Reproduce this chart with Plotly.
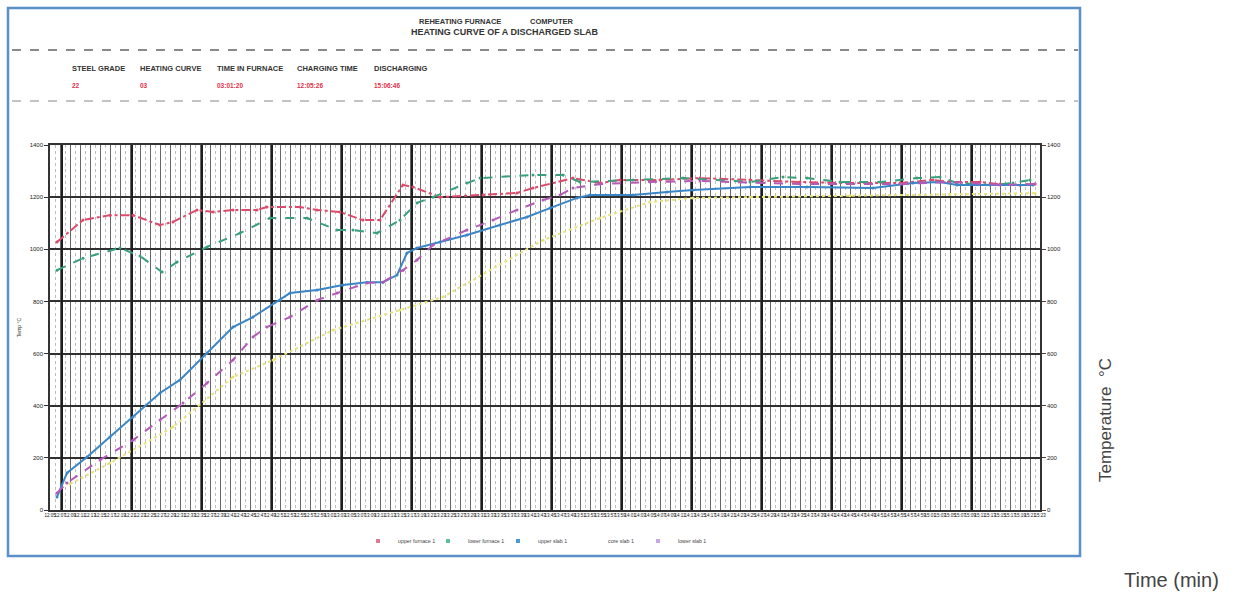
import plotly.graph_objects as go

# ---------------- data (minutes in furnace, °C) ----------------
red_t = [1.4, 6.6, 12.0, 16.6, 22.0, 24.6, 29.4, 32.6, 36.6, 41.4, 43.4, 50.0, 53.4, 58.0, 62.6, 66.0,
         70.6, 72.6, 78.0, 86.6, 93.4, 96.6, 104.6, 110.0, 114.0, 122.0, 130.0, 140.0, 150.0, 160.0,
         170.0, 176.6, 180.0, 186.0, 190.0, 194.0, 197.0]
red_v = [1028, 1112, 1131, 1131, 1093, 1105, 1151, 1143, 1151, 1151, 1162, 1162, 1151, 1143, 1112, 1112,
         1247, 1239, 1200, 1208, 1216, 1235, 1273, 1254, 1266, 1266, 1273, 1266, 1258, 1254,
         1254, 1266, 1258, 1258, 1250, 1246, 1250]

green_t = [1.4, 6.6, 14.0, 18.0, 22.4, 25.4, 31.4, 38.0, 44.0, 51.4, 57.4, 60.6, 65.4, 70.0, 73.4,
           76.6, 83.4, 86.0, 96.6, 102.6, 106.0, 116.6, 126.6, 140.0, 146.6, 151.4, 158.0, 166.0,
           173.4, 178.0, 181.4, 188.0, 192.6, 196.0]
green_v = [920, 966, 1005, 974, 913, 951, 1009, 1062, 1120, 1120, 1074, 1074, 1062, 1112, 1178,
           1200, 1254, 1273, 1285, 1285, 1258, 1266, 1273, 1258, 1277, 1273, 1258, 1258,
           1273, 1277, 1254, 1247, 1254, 1266]

blue_t = [1.4, 3.4, 7.4, 12.0, 16.6, 22.0, 26.0, 31.4, 36.6, 40.6, 46.0, 48.0, 53.4, 58.6, 63.4,
          66.6, 69.4, 71.4, 73.4, 78.0, 83.4, 90.0, 95.4, 100.0, 105.4, 108.0, 116.6, 123.4, 128.6,
          140.0, 151.4, 164.6, 172.6, 178.0, 181.4, 196.6]
blue_v = [50, 142, 203, 280, 357, 449, 499, 602, 702, 740, 805, 832, 844, 863, 874,
          874, 901, 986, 1005, 1028, 1055, 1093, 1124, 1158, 1197, 1208, 1208, 1220, 1227,
          1239, 1239, 1235, 1254, 1258, 1247, 1247]

yellow_t = [4.0, 12.0, 24.6, 36.6, 44.6, 56.6, 70.0, 78.6, 98.6, 110.0, 120.0, 128.6, 140.0,
            160.0, 180.0, 197.0]
yellow_v = [100, 180, 318, 510, 575, 690, 767, 817, 1035, 1120, 1181, 1197, 1200,
            1205, 1210, 1215]

purple_t = [1.4, 3.4, 10.0, 16.6, 22.0, 26.6, 31.4, 36.6, 40.6, 43.4, 48.0, 53.4, 57.4, 63.4,
            66.6, 70.6, 73.4, 76.6, 83.4, 88.6, 93.4, 98.6, 102.0, 104.6, 110.0, 120.0, 130.0,
            150.0, 170.0, 180.0, 190.0, 197.0]
purple_v = [65, 104, 192, 268, 345, 410, 487, 575, 664, 702, 740, 805, 832, 871,
            874, 920, 959, 1016, 1074, 1112, 1151, 1189, 1208, 1235, 1250, 1258, 1262,
            1250, 1250, 1258, 1247, 1250]

series_names = ["upper furnace 1", "lower furnace 1", "upper slab 1", "core slab 1", "lower slab 1"]
series_colors = ["#dc4a6c", "#3aa07c", "#3b86c6", "#e6e27a", "#b45ab8"]
legend_colors = ["#e07a90", "#5fbf9a", "#4a9ad8", "#ffffff", "#c8a8e0"]
series_dash = ["dashdot", "dash", "solid", "dot", "dash"]

y_ticks = [0, 200, 400, 600, 800, 1000, 1200, 1400]
x_ticks = [i * 2 for i in range(0, 100)]
start_h, start_m = 12, 5
x_tick_labels = ["%02d:%02d" % ((start_h * 60 + start_m + t) // 60 % 24, (start_m + t) % 60) for t in x_ticks]

header_labels = ["STEEL GRADE", "HEATING CURVE", "TIME IN FURNACE", "CHARGING TIME", "DISCHARGING"]
header_values = ["22", "03", "03:01:20", "12:05:26", "15:06:46"]
header_px = [70, 138, 215, 295, 372]

# ---------------- geometry helpers ----------------
W, H = 1249, 594
L, R, T, B = 50, 1040, 145, 510


def px(x):
    return (x - L) / (R - L)


def py(y):
    return (B - y) / (B - T)


fig = go.Figure()
all_t = [red_t, green_t, blue_t, yellow_t, purple_t]
all_v = [red_v, green_v, blue_v, yellow_v, purple_v]
for name, col, dash, tt, vv in zip(series_names, series_colors, series_dash, all_t, all_v):
    fig.add_trace(go.Scatter(x=tt, y=vv, name=name, mode="lines+markers", legendgroup=name,
                             showlegend=False,
                             line=dict(color=col, width=2, dash=dash),
                             marker=dict(size=3, color=col)))
# compact legend keys (small square swatches, as on the print-out)
for name, col in zip(series_names, legend_colors):
    fig.add_trace(go.Scatter(x=[None], y=[None], name=name, mode="markers", legendgroup=name,
                             marker=dict(symbol="square", size=4, color=col)))

# invisible traces to activate the overlay axes
fig.add_trace(go.Scatter(x=[0, 198], y=[None, None], xaxis="x2", yaxis="y", showlegend=False, hoverinfo="skip"))
fig.add_trace(go.Scatter(x=[0, 198], y=[None, None], xaxis="x", yaxis="y2", showlegend=False, hoverinfo="skip"))

fig.update_layout(
    width=W, height=H,
    margin=dict(l=L, r=W - R, t=T, b=H - B),
    paper_bgcolor="white", plot_bgcolor="white",
    font=dict(family="Liberation Sans", color="#222"),
    showlegend=True,
    legend=dict(orientation="h", x=px(358), xanchor="left", y=py(541), yanchor="middle",
                font=dict(size=5.3, color="#444"), itemwidth=30, entrywidth=25,
                bgcolor="rgba(0,0,0,0)", tracegroupgap=0),
    xaxis=dict(range=[0, 198], tickvals=x_ticks, ticktext=x_tick_labels,
               tickfont=dict(size=4.5, color="#111"), tickangle=0,
               showgrid=True, gridcolor="#666666", gridwidth=1.4,
               minor=dict(dtick=1, showgrid=True, gridcolor="#bdbdbd", gridwidth=1, griddash="dot"),
               showline=True, linecolor="#333", linewidth=2, mirror=True,
               ticks="", zeroline=False),
    xaxis2=dict(range=[0, 198], overlaying="x", dtick=14, tick0=2.4, showgrid=True,
                gridcolor="#1e1e1e", gridwidth=2.2, showticklabels=False, ticks="", zeroline=False),
    yaxis=dict(range=[0, 1400], tickvals=y_ticks, tickfont=dict(size=6, color="#222"),
               showgrid=True, gridcolor="#303030", gridwidth=1.8, zeroline=False,
               showline=True, linecolor="#333", linewidth=1.5,
               ticks="outside", ticklen=4, tickcolor="#333",
               title=dict(text="Temp °C", font=dict(size=5, color="#333"), standoff=8)),
    yaxis2=dict(range=[0, 1400], tickvals=y_ticks, overlaying="y", side="right",
                tickfont=dict(size=6, color="#222"), showgrid=False, zeroline=False,
                showline=True, linecolor="#333", linewidth=1.5, ticks="outside", ticklen=4),
)

shapes = [
    dict(type="rect", xref="paper", yref="paper", x0=px(8), x1=px(1080), y0=py(556), y1=py(8),
         line=dict(color="#5a8fc8", width=2.5), fillcolor="rgba(0,0,0,0)", layer="above"),
    dict(type="line", xref="paper", yref="paper", x0=px(12), x1=px(1078), y0=py(50), y1=py(50),
         line=dict(color="#8a8a8a", width=2, dash="dash")),
    dict(type="line", xref="paper", yref="paper", x0=px(12), x1=px(1078), y0=py(101), y1=py(101),
         line=dict(color="#b0b0b0", width=1.5, dash="dash")),
]
fig.update_layout(shapes=shapes)

ann = [
    dict(text="<b>REHEATING FURNACE</b>", x=px(460), y=py(21), font=dict(size=7.5, color="#333")),
    dict(text="<b>COMPUTER</b>", x=px(552), y=py(21), font=dict(size=7.5, color="#333")),
    dict(text="<b>HEATING CURVE OF A DISCHARGED SLAB</b>", x=px(505), y=py(32), font=dict(size=9, color="#333")),
]
for lab, val, xp in zip(header_labels, header_values, header_px):
    ann.append(dict(text="<b>" + lab + "</b>", x=px(xp), y=py(68), xanchor="left",
                    font=dict(size=7.5, color="#333")))
    ann.append(dict(text="<b>" + val + "</b>", x=px(xp), y=py(85), xanchor="left",
                    font=dict(size=6.5, color="#e0304a")))
ann.append(dict(text="Temperature  °C", x=px(1105), y=py(420), textangle=-90,
                font=dict(size=17, color="#444", family="Liberation Sans")))
ann.append(dict(text="Time (min)", x=px(1171), y=py(580),
                font=dict(size=20, color="#444", family="Liberation Sans")))
for a in ann:
    a.setdefault("xanchor", "center")
    a["yanchor"] = "middle"
    a["xref"] = "paper"
    a["yref"] = "paper"
    a["showarrow"] = False
fig.update_layout(annotations=ann)

fig.write_html("out.html")
